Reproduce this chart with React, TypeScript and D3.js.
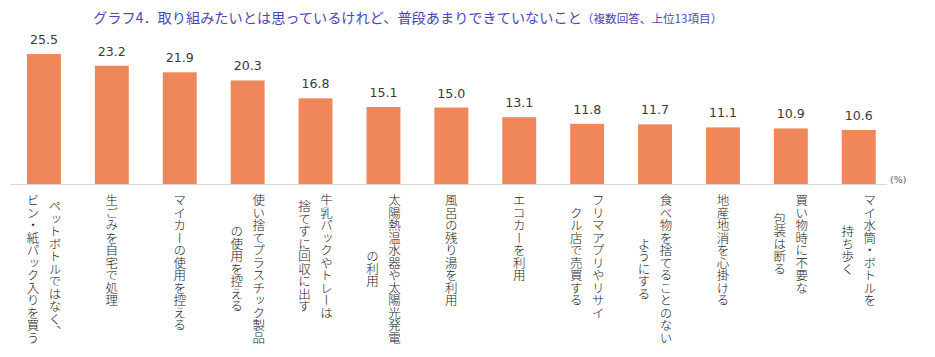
import React from "react";
import * as d3 from "d3";

const categories: string[][] = [
  ["ペットボトルではなく、", "ビン・紙パック入りを買う"],
  ["生ごみを自宅で処理"],
  ["マイカーの使用を控える"],
  ["使い捨てプラスチック製品", "の使用を控える"],
  ["牛乳パックやトレーは", "捨てずに回収に出す"],
  ["太陽熱温水器や太陽光発電", "の利用"],
  ["風呂の残り湯を利用"],
  ["エコカーを利用"],
  ["フリマアプリやリサイ", "クル店で売買する"],
  ["食べ物を捨てることのない", "ようにする"],
  ["地産地消を心掛ける"],
  ["買い物時に不要な", "包装は断る"],
  ["マイ水筒・ボトルを", "持ち歩く"],
];
const values: number[] = [25.5, 23.2, 21.9, 20.3, 16.8, 15.1, 15.0, 13.1, 11.8, 11.7, 11.1, 10.9, 10.6];
const titleMain = "グラフ4．取り組みたいとは思っているけれど、普段あまりできていないこと";
const titleSub = "（複数回答、上位13項目）";
const unitLabel = "(%)";

const W = 935;
const H = 357;
const baseY = 184;
const labelTop = 194;
const fs = 12.5;
const linePitch = 22;
const jp = "'Noto Sans CJK JP', 'Noto Sans', sans-serif";

export default function App() {
  const keys = categories.map((_, i) => String(i));
  const x = d3.scaleBand<string>().domain(keys).range([10, 10 + 13 * 67.9]).paddingInner(0.5).paddingOuter(0.25);
  const y = d3.scaleLinear().domain([0, 30]).range([baseY, baseY - 153]);

  return (
    <svg width={W} height={H} style={{ position: "absolute", left: 0, top: 0, background: "#fff" }}>
      <text x={93} y={23} fontFamily={jp} fontSize={14.2} fill="#4B46B8">
        {titleMain}
        <tspan fontSize={11.6}>{titleSub}</tspan>
      </text>
      {values.map((v, i) => {
        const bx = x(String(i))!;
        const bw = x.bandwidth();
        return (
          <g key={i}>
            <rect x={bx} y={y(v)} width={bw} height={baseY - y(v)} fill="#F0875A" />
            <text
              x={bx + bw / 2}
              y={y(v) - 10}
              textAnchor="middle"
              fontFamily="'DejaVu Sans', Verdana, sans-serif"
              fontSize={12.6}
              fill="#3a3a3a"
            >
              {v.toFixed(1)}
            </text>
          </g>
        );
      })}
      <line x1={10} x2={887} y1={baseY + 0.5} y2={baseY + 0.5} stroke="#D9D9D9" strokeWidth={1} />
      <text x={890} y={183} fontFamily="'DejaVu Sans', Verdana, sans-serif" fontSize={9.5} fill="#595959">
        {unitLabel}
      </text>
      {categories.map((lines, i) => {
        const cx = x(String(i))! + x.bandwidth() / 2;
        const n = lines.length;
        const maxLen = d3.max(lines, (l) => Array.from(l).length)!;
        const midY = labelTop + (maxLen * fs) / 2;
        return (
          <g key={"l" + i}>
            {lines.map((line, j) => (
              <text
                key={j}
                x={cx + ((n - 1) / 2) * linePitch - j * linePitch}
                y={midY}
                textAnchor="middle"
                fontFamily={jp}
                fontSize={fs}
                fontWeight={300}
                fill="#1a1a1a"
                style={{ writingMode: "vertical-rl" as any }}
              >
                {line}
              </text>
            ))}
          </g>
        );
      })}
    </svg>
  );
}
